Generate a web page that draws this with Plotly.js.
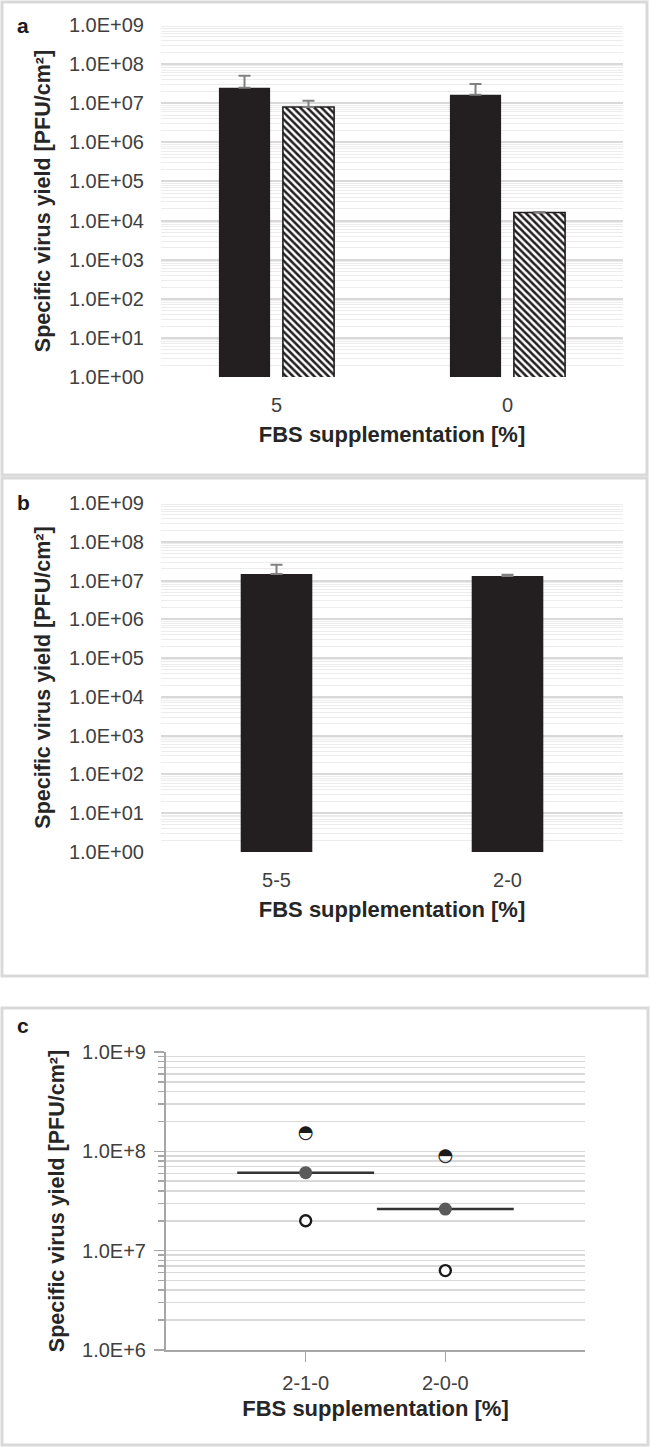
<!DOCTYPE html>
<html>
<head>
<meta charset="utf-8">
<script src="https://cdn.plot.ly/plotly-3.0.1.min.js"></script>
<style>html,body{margin:0;padding:0;background:#fff;}#chart{width:650px;height:1447px;}</style>
</head>
<body>
<div id="chart"></div>
<script>
// ---------- data ----------
const aCategories = ['5', '0'];
const aBlack = [2.5e7, 1.65e7];
const aBlackErr = [2.55e7, 1.45e7];
const aHatched = [8.0e6, 1.6e4];
const aHatchedErr = [3.6e6, 600];

const bCategories = ['5-5', '2-0'];
const bValues = [1.47e7, 1.31e7];
const bErr = [1.1e7, 1.0e6];

const cCategories = ['2-1-0', '2-0-0'];
const cHigh = [1.52e8, 8.8e7];
const cMid = [6.1e7, 2.62e7];
const cLow = [2.0e7, 6.3e6];

const abTickVals = [1, 1e1, 1e2, 1e3, 1e4, 1e5, 1e6, 1e7, 1e8, 1e9];
const abTickText = ['1.0E+00', '1.0E+01', '1.0E+02', '1.0E+03', '1.0E+04', '1.0E+05', '1.0E+06', '1.0E+07', '1.0E+08', '1.0E+09'];
const cTickVals = [1e6, 1e7, 1e8, 1e9];
const cTickText = ['1.0E+6', '1.0E+7', '1.0E+8', '1.0E+9'];

const yTitle = 'Specific virus yield [PFU/cm²]';
const xTitle = 'FBS supplementation [%]';
const panelLabels = ['a', 'b', 'c'];

// ---------- helpers ----------
const W = 650, H = 1447;
const px = x => x / W;
const py = y => 1 - y / H;
const FONT = 'Liberation Sans, Arial, sans-serif';
const DARK = '#231f20';
// panel c uses a numeric x axis: category i sits at position i + 1
const cPos = cCategories.map((_, i) => i + 1);

const traces = [
  {type: 'bar', x: aCategories, y: aBlack, xaxis: 'x', yaxis: 'y',
   marker: {color: DARK, line: {width: 0}},
   error_y: {type: 'data', array: aBlackErr, arrayminus: [0, 0], symmetric: false, color: '#808080', thickness: 2, width: 6}},
  {type: 'bar', x: aCategories, y: aHatched, xaxis: 'x', yaxis: 'y',
   marker: {color: 'white', line: {width: 1.6, color: DARK},
            pattern: {shape: '\\', fgcolor: DARK, bgcolor: 'white', size: 5, solidity: 0.5}},
   error_y: {type: 'data', array: aHatchedErr, arrayminus: [0, 0], symmetric: false, color: '#808080', thickness: 2, width: 6}},
  {type: 'bar', x: bCategories, y: bValues, xaxis: 'x2', yaxis: 'y2', width: 0.31,
   marker: {color: DARK, line: {width: 0}},
   error_y: {type: 'data', array: bErr, arrayminus: [0, 0], symmetric: false, color: '#808080', thickness: 2, width: 6}},
  {type: 'scatter', mode: 'markers', x: cPos, y: cMid, xaxis: 'x3', yaxis: 'y3',
   marker: {color: '#5a5a5a', size: 13, line: {width: 0}},
   error_x: {type: 'constant', value: 0.49, color: '#333333', thickness: 2.5, width: 0}},
  {type: 'scatter', mode: 'markers', x: cPos, y: cLow, xaxis: 'x3', yaxis: 'y3',
   marker: {color: 'white', size: 11, line: {width: 2.4, color: '#1a1a1a'}}},
  {type: 'scatter', mode: 'text', x: cPos, y: cHigh, xaxis: 'x3', yaxis: 'y3',
   text: cHigh.map(() => '◓'), textposition: 'middle center',
   textfont: {family: 'DejaVu Sans', size: 18, color: '#1a1a1a'}, hoverinfo: 'skip'}
];

const tickFont = {family: FONT, size: 20, color: '#404040'};
const titleFont = {family: FONT, size: 22, color: '#262626'};
const yTitleFont = {family: FONT, size: 21.5, color: '#262626'};

function barY(top, bottom) {
  return {
    domain: [py(bottom), py(top)], type: 'log', range: [0, 9],
    tickmode: 'array', tickvals: abTickVals, ticktext: abTickText,
    tickfont: tickFont, ticks: '', ticklabelstandoff: 16,
    showgrid: true, gridcolor: '#d9d9d9', gridwidth: 2,
    minor: {dtick: 'D1', showgrid: true, gridcolor: '#ececec', gridwidth: 1, ticks: ''},
    zeroline: false, showline: false,
    title: {text: '<b>' + yTitle + '</b>', font: yTitleFont, standoff: 12}
  };
}
function barX(anchor) {
  return {
    domain: [px(161), px(623)], anchor: anchor, type: 'category',
    showgrid: false, zeroline: false, showline: false, ticks: '',
    tickfont: tickFont, ticklabelstandoff: 14,
    title: {text: '<b>' + xTitle + '</b>', font: titleFont, standoff: 11}
  };
}

const layout = {
  width: W, height: H, margin: {l: 0, r: 0, t: 0, b: 0},
  paper_bgcolor: 'white', plot_bgcolor: 'rgba(0,0,0,0)',
  showlegend: false, barmode: 'group', bargap: 0.446, bargroupgap: 0.2,
  font: {family: FONT, color: '#404040'},
  xaxis: barX('y'),
  yaxis: Object.assign(barY(25, 377), {anchor: 'x'}),
  xaxis2: barX('y2'),
  yaxis2: Object.assign(barY(503, 852), {anchor: 'x2'}),
  xaxis3: {
    domain: [px(166), px(585)], anchor: 'y3', type: 'linear', range: [0, 3],
    tickmode: 'array', tickvals: cPos, ticktext: cCategories,
    showgrid: false, zeroline: false, showline: true, linecolor: '#a6a6a6', linewidth: 2,
    ticks: 'outside', ticklen: 10, tickwidth: 1.5, tickcolor: '#a6a6a6',
    tickfont: tickFont, ticklabelstandoff: 4,
    title: {text: '<b>' + xTitle + '</b>', font: titleFont, standoff: 8}
  },
  yaxis3: {
    domain: [py(1350), py(1052)], anchor: 'x3', type: 'log', range: [6, 9],
    tickmode: 'array', tickvals: cTickVals, ticktext: cTickText,
    tickfont: tickFont, ticks: 'outside', ticklen: 10, tickwidth: 1.5, tickcolor: '#a6a6a6',
    ticklabelstandoff: 4,
    showline: true, linecolor: '#a6a6a6', linewidth: 2,
    showgrid: true, gridcolor: '#d9d9d9', gridwidth: 1.5,
    minor: {dtick: 'D1', showgrid: true, gridcolor: '#d9d9d9', gridwidth: 1.5, ticks: 'outside', ticklen: 6, tickcolor: '#a6a6a6', tickwidth: 1.5},
    zeroline: false,
    title: {text: '<b>' + yTitle + '</b>', font: yTitleFont, standoff: 12}
  },
  shapes: [
    {type: 'rect', xref: 'paper', yref: 'paper', x0: px(2), x1: px(647), y0: py(475), y1: py(2), line: {color: '#d9d9d9', width: 3}},
    {type: 'rect', xref: 'paper', yref: 'paper', x0: px(2), x1: px(647), y0: py(976), y1: py(478), line: {color: '#d9d9d9', width: 3}},
    {type: 'rect', xref: 'paper', yref: 'paper', x0: px(2), x1: px(648), y0: py(1445), y1: py(1008), line: {color: '#d9d9d9', width: 3}}
  ],
  annotations: [
    {text: '<b>' + panelLabels[0] + '</b>', xref: 'paper', yref: 'paper', x: px(23), y: py(25), xanchor: 'center', yanchor: 'middle', showarrow: false, font: {family: FONT, size: 21, color: '#1a1a1a'}},
    {text: '<b>' + panelLabels[1] + '</b>', xref: 'paper', yref: 'paper', x: px(23), y: py(503), xanchor: 'center', yanchor: 'middle', showarrow: false, font: {family: FONT, size: 21, color: '#1a1a1a'}},
    {text: '<b>' + panelLabels[2] + '</b>', xref: 'paper', yref: 'paper', x: px(23), y: py(1025), xanchor: 'center', yanchor: 'middle', showarrow: false, font: {family: FONT, size: 21, color: '#1a1a1a'}}
  ]
};

Plotly.newPlot('chart', traces, layout, {staticPlot: true, displayModeBar: false});
</script>
</body>
</html>
